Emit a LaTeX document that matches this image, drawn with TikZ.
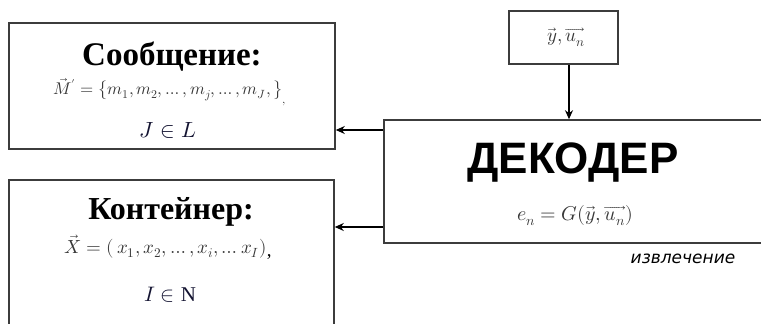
\documentclass[tikz,border=0pt]{standalone}
\usepackage{fontspec}
\usepackage{unicode-math}
\setmainfont{Liberation Serif}
\setmathfont{Latin Modern Math}
\newfontfamily\decsans{Liberation Sans}
\newfontfamily\lblfont{DejaVu Sans}
\usetikzlibrary{arrows.meta}
\definecolor{edge}{RGB}{60,60,60}
\definecolor{formula}{RGB}{55,55,55}
\definecolor{navy}{RGB}{20,20,50}
\tikzset{
  blockbox/.style={draw=edge,line width=1.6pt,fill=white,inner sep=0pt},
  conn/.style={draw=black,line width=1.6pt,-{Stealth[length=9pt,width=8pt]}},
}
\begin{document}
\begin{tikzpicture}[x=1pt,y=-1pt]
\useasboundingbox (0,0) rectangle (761,324);
\clip (0,0) rectangle (761,324);
% boxes
\node[blockbox,minimum width=326pt,minimum height=126pt] (msg) at (172,86) {};
\node[blockbox,minimum width=325pt,minimum height=160pt] (cont) at (171.5,260) {};
\node[blockbox,minimum width=416pt,minimum height=123pt] (dec) at (592,181.5) {};
\node[blockbox,minimum width=109pt,minimum height=53pt] (inp) at (563.5,37.5) {};
% texts
\node (msgt) at (172,57) {\fontsize{33}{33}\selectfont\bfseries Сообщение:};
\node (msgf) at (170,92) {\color{formula}\fontsize{17}{17}\selectfont $\vec{M}' = \bigl\{m_1, m_2, \ldots, m_j, \ldots, m_J,\bigr\}_{,}$};
\node (msgj) at (168,130) {\fontsize{22}{22}\selectfont\color{navy}$J \in L$};
\node (contt) at (171,212) {\fontsize{32}{32}\selectfont\bfseries Контейнер:};
\node (contf) at (168,247) {\color{formula}\fontsize{19}{19}\selectfont $\vec{X} = (\,x_1, x_2, \ldots, x_i, \ldots x_I)$\raisebox{-3pt}{\color{black},}};
\node (conti) at (170,295) {\fontsize{21}{21}\selectfont\color{navy}$I \in \mathrm{N}$};
\node (dect) at (573,163) {\decsans\bfseries\fontsize{44}{44}\selectfont ДЕКОДЕР};
\node (decf) at (575,216) {\color{formula}\fontsize{20}{20}\selectfont $e_n = G(\overrightarrow{y}, \overrightarrow{u_n})$};
\node (inpt) at (566,37) {\color{formula}\fontsize{19}{19}\selectfont $\overrightarrow{y}, \overrightarrow{u_n}$};
\node (lbl) at (683,259) {\lblfont\itshape\fontsize{17}{17}\selectfont извлечение};
% connectors
\coordinate (a1) at ([xshift=5.5pt]inp.south);
\draw[conn] (a1) -- (a1 |- dec.north);
\coordinate (m1) at (0,130);
\coordinate (c1) at (0,227);
\draw[conn] (dec.west |- m1) -- (msg.east |- m1);
\draw[conn] (dec.west |- c1) -- (cont.east |- c1);
\end{tikzpicture}
\end{document}
